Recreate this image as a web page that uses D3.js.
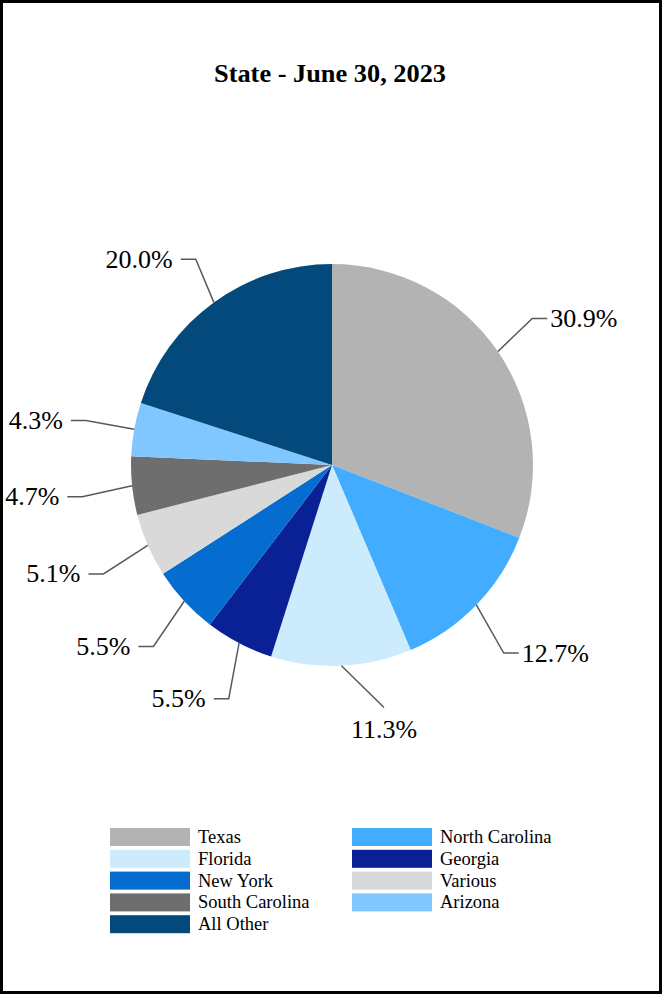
<!DOCTYPE html>
<html>
<head>
<meta charset="utf-8">
<script src="https://cdn.jsdelivr.net/npm/d3@7"></script>
<style>
  html, body { margin: 0; padding: 0; background: #fff; }
  svg { display: block; }
  svg text { font-family: "Liberation Serif", "Times New Roman", Times, serif; }
</style>
</head>
<body>
<svg id="chart" width="662" height="994"></svg>
<script>
const title = "State - June 30, 2023";
const categories = ["Texas", "North Carolina", "Florida", "Georgia", "New York", "Various", "South Carolina", "Arizona", "All Other"];
const values = [30.9, 12.7, 11.3, 5.5, 5.5, 5.1, 4.7, 4.3, 20.0];
const colors = ["#B3B3B3", "#42ADFF", "#CCEBFC", "#0A2196", "#056CD0", "#D9D9D9", "#6E6E6E", "#80C6FF", "#03497C"];
// small angular nudges (degrees) for leader elbows, to mimic the original label placement
const labelNudge = [-1.8, 3.5, -9.4, -3.7, -2.8, -1.9, -1.3, 0, 2.5];

const svg = d3.select("#chart");
const W = 662, H = 994;
const serif = '"Liberation Serif", "Times New Roman", Times, serif';

svg.append("rect").attr("x", 1.5).attr("y", 1.5).attr("width", W - 3).attr("height", H - 3)
  .attr("fill", "#fff").attr("stroke", "#000").attr("stroke-width", 3);

svg.append("text").attr("x", 330).attr("y", 82).attr("text-anchor", "middle")
  .style("font-family", serif)
  .attr("font-weight", "bold").attr("font-size", 26).attr("fill", "#000")
  .attr("textLength", 232).attr("lengthAdjust", "spacingAndGlyphs")
  .text(title);

const cx = 332, cy = 465, R = 201;
const data = categories.map((c, i) => ({ name: c, value: values[i], color: colors[i], nudge: labelNudge[i] }));
const pie = d3.pie().sort(null).value(d => d.value);
const arcs = pie(data);
const arc = d3.arc().innerRadius(0).outerRadius(R);

const g = svg.append("g").attr("transform", `translate(${cx},${cy})`);
g.selectAll("path.slice").data(arcs).join("path").attr("class", "slice")
  .attr("d", arc).attr("fill", d => d.data.color);

// labels with leader lines
const pt = (a, r) => [r * Math.sin(a), -r * Math.cos(a)];
const lg = g.append("g");
arcs.forEach(d => {
  const mid = (d.startAngle + d.endAngle) / 2;
  const a = mid + d.data.nudge * Math.PI / 180;
  const p0 = pt(mid, R);
  const bottom = Math.abs(mid - Math.PI) < 0.15;
  const rl = bottom ? 248 : 246 + 10 * (1 - Math.cos(a)) / 2;
  const pe = pt(a, rl);
  const txt = d3.format(".1f")(d.data.value) + "%";
  let pts, tx, ty, anchor, dy;
  if (bottom) {
    pts = [p0, pe];
    tx = pe[0]; ty = pe[1] + 31; anchor = "middle"; dy = 0;
  } else {
    const right = pe[0] > 0;
    const p2 = [pe[0] + (right ? 15 : -15), pe[1]];
    pts = [p0, pe, p2];
    tx = p2[0] + (right ? 3 : -8); ty = p2[1]; anchor = right ? "start" : "end"; dy = "0.33em";
  }
  lg.append("polyline").attr("points", pts.map(p => p.join(",")).join(" "))
    .attr("fill", "none").attr("stroke", "#595959").attr("stroke-width", 1.5);
  lg.append("text").attr("x", tx).attr("y", ty).attr("dy", dy).attr("text-anchor", anchor)
    .style("font-family", serif)
    .attr("font-size", 26).attr("fill", "#000").text(txt);
});

// legend (two columns, row-major)
const legend = svg.append("g");
data.forEach((d, i) => {
  const col = i % 2, row = Math.floor(i / 2);
  const x = col === 0 ? 110 : 352;
  const y = 828 + row * 21.8;
  legend.append("rect").attr("x", x).attr("y", y).attr("width", 80).attr("height", 18).attr("fill", d.color);
  legend.append("text").attr("x", x + 88).attr("y", y + 15)
    .style("font-family", serif)
    .attr("font-size", 18.5).attr("fill", "#000").text(d.name);
});
</script>
</body>
</html>
